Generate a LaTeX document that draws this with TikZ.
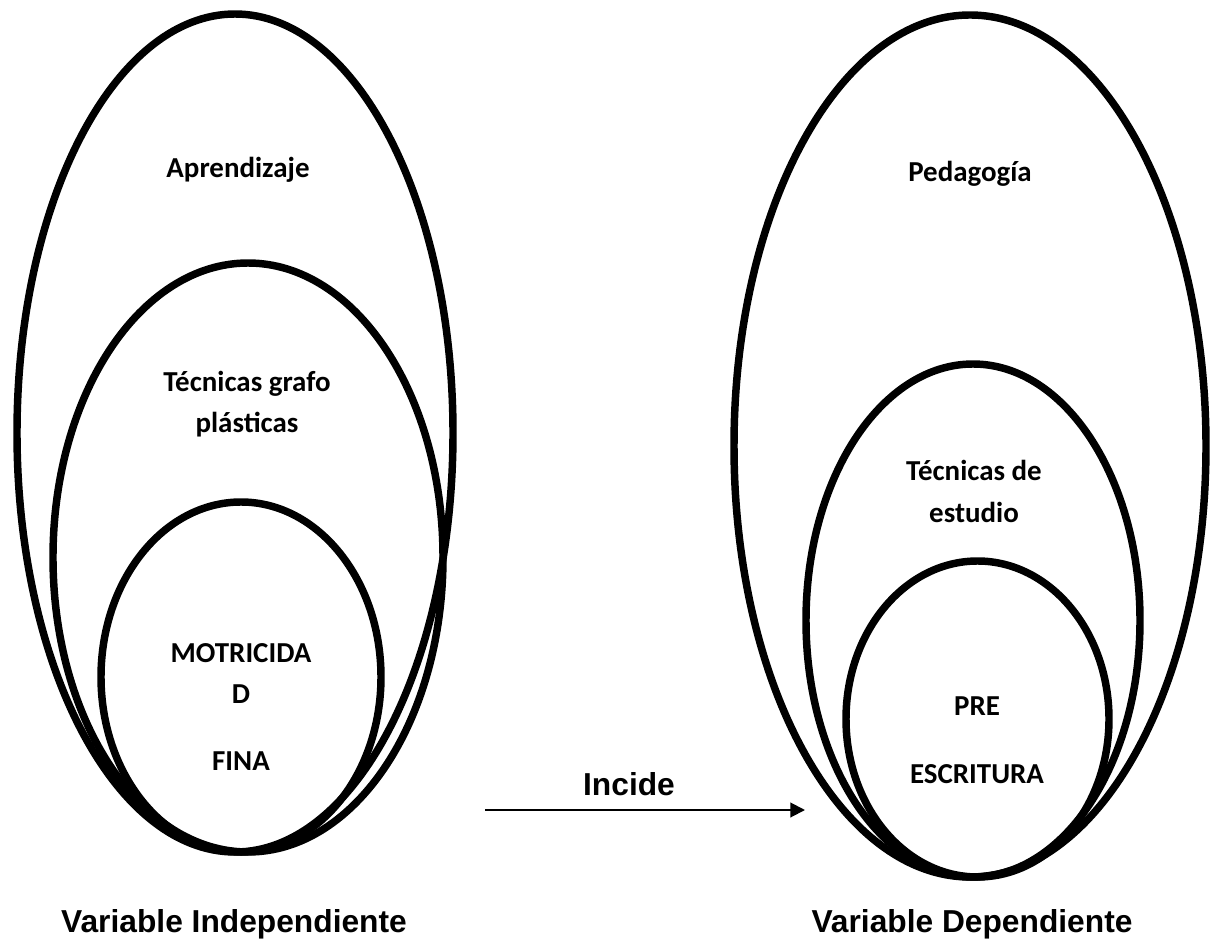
\documentclass[tikz,border=0pt]{standalone}
\usepackage{fontspec}
\setmainfont{Carlito}
\newfontfamily\arialfont{Liberation Sans}
\usetikzlibrary{arrows.meta}

\tikzset{
  ring/.style={line width=5.6pt},
  inlabel/.style={anchor=base, inner sep=0pt, font=\fontsize{21.7}{26}\selectfont\bfseries},
  varlabel/.style={anchor=base, inner sep=0pt, font=\arialfont\fontsize{23.8}{28}\selectfont\bfseries},
}

\begin{document}
\begin{tikzpicture}[x=0.75pt,y=0.75pt,yscale=-1,xscale=1]
\useasboundingbox (0,0) rectangle (1214,941);

%Shape: Ellipse (left, outer)
\draw [ring] (235,433) ellipse [x radius=218, y radius=419];
%Shape: Ellipse (left, middle)
\draw [ring] (248,557.5) ellipse [x radius=195, y radius=294.5];
%Shape: Ellipse (left, inner)
\draw [ring] (241,677) ellipse [x radius=140, y radius=175];

%Shape: Ellipse (right, outer)
\draw [ring] (970,446) ellipse [x radius=236, y radius=431];
%Shape: Ellipse (right, middle)
\draw [ring] (973,620.5) ellipse [x radius=167, y radius=256.5];
%Shape: Ellipse (right, inner)
\draw [ring] (977.5,719) ellipse [x radius=131.5, y radius=158];

%Straight Lines (arrow)
\coordinate (incfrom) at (485,810);
\coordinate (incto) at (805,810);
\draw [line width=1.5pt, -{Triangle[length=11pt,width=11pt]}] (incfrom) -- (incto);

% Text Node
\node (aprend) [inlabel] at (238,178) {Aprendizaje};
% Text Node
\node (tecgrafo) [inlabel] at (247,391) {Técnicas grafo};
\node (plast) [inlabel] at (247,432) {plásticas};
% Text Node
\node (motri) [inlabel] at (241,662) {MOTRICIDA};
\node (motrid) [inlabel] at (241,703) {D};
\node (fina) [inlabel] at (241,770) {FINA};

% Text Node
\node (pedag) [inlabel] at (970,182) {Pedagogía};
% Text Node
\node (tecest) [inlabel] at (974,480) {Técnicas de};
\node (estud) [inlabel] at (974,522) {estudio};
% Text Node
\node (pre) [inlabel] at (977,715) {PRE};
\node (escr) [inlabel] at (977,783) {ESCRITURA};

% Text Node
\node (incide) [varlabel] at (629,795) {Incide};
% Text Node
\node (varind) [varlabel] at (234,932) {Variable Independiente};
% Text Node
\node (vardep) [varlabel] at (972,932) {Variable Dependiente};

\end{tikzpicture}
\end{document}
